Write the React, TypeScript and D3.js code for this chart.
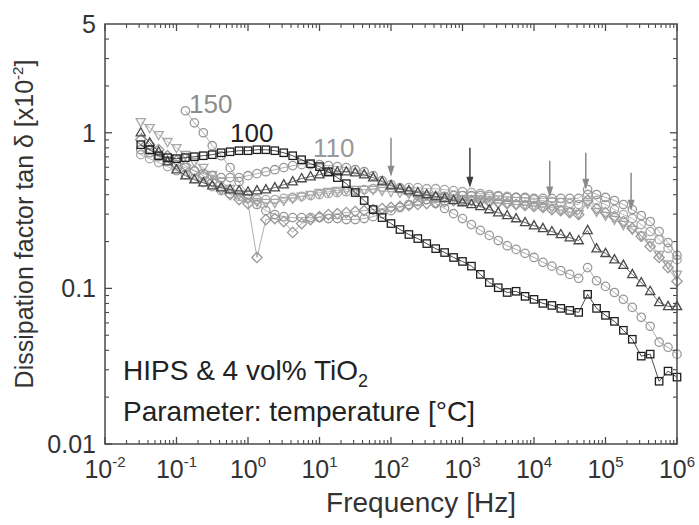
import React from 'react';
import * as d3 from 'd3';

// log10 of frequency [Hz] for each measured point
const freqExp = [-1.5,-1.375,-1.25,-1.125,-1,-0.875,-0.75,-0.625,-0.5,-0.375,-0.25,-0.125,0,0.125,0.25,0.375,0.5,0.625,0.75,0.875,1,1.125,1.25,1.375,1.5,1.625,1.75,1.875,2,2.125,2.25,2.375,2.5,2.625,2.75,2.875,3,3.125,3.25,3.375,3.5,3.625,3.75,3.875,4,4.125,4.25,4.375,4.5,4.625,4.75,4.875,5,5.125,5.25,5.375,5.5,5.625,5.75,5.875,6];

const sSquare = [0.838,0.778,0.712,0.692,0.682,0.692,0.702,0.712,0.723,0.744,0.755,0.767,0.767,0.778,0.778,0.767,0.744,0.712,0.671,0.633,0.606,0.562,0.515,0.471,0.413,0.367,0.321,0.285,0.261,0.239,0.222,0.209,0.194,0.180,0.170,0.158,0.149,0.139,0.123,0.109,0.101,0.0941,0.0958,0.0889,0.0850,0.0801,0.0777,0.0744,0.0722,0.0701,0.0916,0.0744,0.0671,0.0614,0.0538,0.0471,0.0367,0.0378,0.0253,0.0294,0.0269];
const sCircle110 = [0.778,0.744,0.702,0.661,0.624,0.597,0.570,0.546,0.530,0.515,0.515,0.515,0.530,0.546,0.562,0.579,0.597,0.615,0.624,0.624,0.624,0.615,0.606,0.597,0.579,0.562,0.530,0.493,0.464,0.437,0.418,0.395,0.372,0.351,0.326,0.302,0.281,0.257,0.236,0.219,0.203,0.188,0.178,0.168,0.158,0.147,0.139,0.130,0.123,0.116,0.136,0.112,0.103,0.0941,0.0850,0.0755,0.0652,0.0571,0.0451,0.0418,0.0378];
const sTriUp = [1.0,0.863,0.755,0.652,0.579,0.530,0.500,0.478,0.457,0.444,0.431,0.425,0.418,0.425,0.431,0.444,0.464,0.485,0.508,0.523,0.538,0.554,0.562,0.562,0.554,0.538,0.515,0.485,0.457,0.437,0.425,0.413,0.401,0.390,0.379,0.367,0.356,0.346,0.336,0.321,0.307,0.294,0.281,0.265,0.253,0.243,0.232,0.222,0.212,0.203,0.236,0.180,0.168,0.153,0.141,0.123,0.109,0.0958,0.0813,0.0766,0.0766];
const sTriDown = [1.176,1.077,0.971,0.876,0.801,0.723,0.652,0.597,0.538,0.485,0.437,0.401,0.379,0.361,0.356,0.356,0.367,0.379,0.390,0.401,0.413,0.418,0.425,0.431,0.431,0.431,0.431,0.425,0.418,0.413,0.407,0.401,0.395,0.390,0.384,0.379,0.372,0.367,0.361,0.356,0.351,0.351,0.346,0.346,0.341,0.336,0.331,0.321,0.312,0.302,0.351,0.312,0.294,0.277,0.257,0.239,0.219,0.197,0.165,0.143,0.123];
const sDiamond = [0.902,0.838,0.778,0.712,0.661,0.615,0.570,0.530,0.485,0.437,0.401,0.372,0.351,0.158,0.277,0.281,0.269,0.229,0.261,0.277,0.289,0.298,0.302,0.307,0.312,0.316,0.321,0.326,0.331,0.336,0.341,0.346,0.351,0.356,0.361,0.367,0.367,0.367,0.367,0.361,0.356,0.351,0.346,0.341,0.336,0.331,0.321,0.316,0.307,0.298,0.367,0.326,0.307,0.289,0.269,0.243,0.216,0.186,0.158,0.136,0.111];
const sCircleMid = [0.723,0.682,0.643,0.606,0.570,0.538,0.508,0.478,0.451,0.425,0.407,0.390,0.379,0.372,0.372,0.372,0.379,0.384,0.390,0.395,0.401,0.407,0.413,0.418,0.425,0.431,0.437,0.444,0.444,0.444,0.444,0.444,0.437,0.437,0.431,0.425,0.418,0.413,0.407,0.401,0.395,0.390,0.384,0.379,0.372,0.367,0.361,0.356,0.351,0.346,0.401,0.367,0.346,0.321,0.298,0.281,0.257,0.232,0.206,0.181,0.153];
const sCircle150 = [null,null,null,null,null,1.385,1.158,1.0,0.826,0.712,0.597,0.485,0.401,0.346,0.316,0.298,0.289,0.285,0.285,0.285,0.285,0.281,0.281,0.277,0.277,0.281,0.289,0.302,0.316,0.331,0.346,0.361,0.372,0.384,0.390,0.395,0.395,0.395,0.395,0.390,0.390,0.384,0.384,0.384,0.379,0.379,0.379,0.379,0.379,0.379,0.431,0.401,0.384,0.367,0.346,0.321,0.294,0.269,0.232,0.197,0.163];

const seriesDefs = [
  { key: 'triDown', values: sTriDown, marker: 'triDown', color: '#a8a8a8' },
  { key: 'circleMid', values: sCircleMid, marker: 'circle', color: '#a8a8a8' },
  { key: 'diamond', values: sDiamond, marker: 'diamond', color: '#9a9a9a' },
  { key: '150', values: sCircle150, marker: 'circle', color: '#979797' },
  { key: '110', values: sCircle110, marker: 'circle', color: '#999999' },
  { key: 'triUp', values: sTriUp, marker: 'triUp', color: '#4a4a4a' },
  { key: '100', values: sSquare, marker: 'square', color: '#1e1e1e' },
];

const curveLabels = [
  { text: '150', f: 0.15, v: 1.34, color: '#8c8c8c' },
  { text: '100', f: 0.56, v: 0.875, color: '#222222' },
  { text: '110', f: 8.1, v: 0.70, color: '#999999' },
];

const arrowFreqs = [100, 1270, 16600, 53000, 228000];
const arrowTops = [0.929, 0.801, 0.661, 0.744, 0.554];
const arrowTips = [0.522, 0.444, 0.384, 0.431, 0.316];
const arrowColors = ['#8a8a8a', '#3c3c3c', '#8a8a8a', '#8a8a8a', '#8a8a8a'];

const xTickExps = [-2, -1, 0, 1, 2, 3, 4, 5, 6];
const yTickValues = [5, 1, 0.1, 0.01];
const yTickLabels = ['5', '1', '0.1', '0.01'];

const FONT = "'Liberation Sans', Arial, sans-serif";

export default function App() {
  const W = 699, H = 525;
  const x = d3.scaleLog().domain([1e-2, 1e6]).range([105, 677]);
  const y = d3.scaleLog().domain([0.01, 5]).range([444, 24]);
  const [x0, x1] = x.range();
  const [yb, yt] = y.range();

  const freqs = freqExp.map((e) => Math.pow(10, e));

  const xMinor: number[] = [];
  for (let e = -2; e < 6; e++) for (let m = 2; m <= 9; m++) xMinor.push(m * Math.pow(10, e));
  const yMinor: number[] = [];
  for (let e = -2; e <= 0; e++) for (let m = 2; m <= 9; m++) { const v = m * Math.pow(10, e); if (v < 5) yMinor.push(v); }
  const yMajor = [0.01, 0.1, 1];

  const line = d3.line<[number, number | null]>()
    .defined((d) => d[1] != null)
    .x((d) => x(d[0]))
    .y((d) => y(d[1] as number));

  const drawMarker = (type: string, cx: number, cy: number, color: string, k: string) => {
    const sw = 1.3;
    if (type === 'square') return <rect key={k} x={cx - 3.7} y={cy - 3.7} width={7.4} height={7.4} fill="none" stroke={color} strokeWidth={sw} />;
    if (type === 'circle') return <circle key={k} cx={cx} cy={cy} r={4.2} fill="none" stroke={color} strokeWidth={sw} />;
    if (type === 'triUp') return <path key={k} d={`M${cx},${cy - 5}L${cx + 4.6},${cy + 3.2}L${cx - 4.6},${cy + 3.2}Z`} fill="none" stroke={color} strokeWidth={sw} />;
    if (type === 'triDown') return <path key={k} d={`M${cx},${cy + 5}L${cx + 4.6},${cy - 3.2}L${cx - 4.6},${cy - 3.2}Z`} fill="none" stroke={color} strokeWidth={sw} />;
    return <path key={k} d={`M${cx},${cy - 5.2}L${cx + 5.2},${cy}L${cx},${cy + 5.2}L${cx - 5.2},${cy}Z`} fill="none" stroke={color} strokeWidth={sw} />;
  };

  const axisColor = '#4a4a4a';
  const textColor = '#333333';

  return (
    <svg width={W} height={H} style={{ position: 'absolute', left: 0, top: 0, background: '#fff' }} fontFamily={FONT}>
      <rect x={0} y={0} width={W} height={H} fill="#fff" />
      {seriesDefs.map((s) => {
        const pts: [number, number | null][] = freqs.map((f, i) => [f, s.values[i]]);
        return (
          <g key={s.key}>
            <path d={line(pts) || ''} fill="none" stroke={s.color} strokeWidth={0.8} />
            {pts.map((p, i) => p[1] == null ? null : drawMarker(s.marker, x(p[0]), y(p[1] as number), s.color, s.key + i))}
          </g>
        );
      })}
      {arrowFreqs.map((f, i) => {
        const ax = x(f), ya = y(arrowTops[i]), yTip = y(arrowTips[i]);
        return (
          <g key={'ar' + i}>
            <line x1={ax} x2={ax} y1={ya} y2={yTip - 8} stroke={arrowColors[i]} strokeWidth={1.5} />
            <path d={`M${ax - 3.5},${yTip - 11}L${ax + 3.5},${yTip - 11}L${ax},${yTip}Z`} fill={arrowColors[i]} />
          </g>
        );
      })}
      {curveLabels.map((c) => (
        <text key={c.text} x={x(c.f)} y={y(c.v)} fill={c.color} fontSize={26}>{c.text}</text>
      ))}
      <rect x={x0} y={yt} width={x1 - x0} height={yb - yt} fill="none" stroke={axisColor} strokeWidth={1.5} />
      {xTickExps.map((e) => {
        const px = x(Math.pow(10, e));
        return (
          <g key={'xt' + e}>
            <line x1={px} x2={px} y1={yb} y2={yb - 7} stroke={axisColor} strokeWidth={1.3} />
            <line x1={px} x2={px} y1={yt} y2={yt + 7} stroke={axisColor} strokeWidth={1.3} />
            <text x={px} y={478} textAnchor="middle" fill={textColor} fontSize={25}>
              10<tspan dy={-11} fontSize={15}>{String(e)}</tspan>
            </text>
          </g>
        );
      })}
      {xMinor.map((v, i) => {
        const px = x(v);
        return (
          <g key={'xm' + i}>
            <line x1={px} x2={px} y1={yb} y2={yb - 4} stroke={axisColor} strokeWidth={1.1} />
            <line x1={px} x2={px} y1={yt} y2={yt + 4} stroke={axisColor} strokeWidth={1.1} />
          </g>
        );
      })}
      {yMajor.map((v, i) => {
        const py = y(v);
        return (
          <g key={'ym' + i}>
            <line x1={x0} x2={x0 + 7} y1={py} y2={py} stroke={axisColor} strokeWidth={1.3} />
            <line x1={x1} x2={x1 - 7} y1={py} y2={py} stroke={axisColor} strokeWidth={1.3} />
          </g>
        );
      })}
      {yMinor.map((v, i) => {
        const py = y(v);
        return (
          <g key={'yn' + i}>
            <line x1={x0} x2={x0 + 4} y1={py} y2={py} stroke={axisColor} strokeWidth={1.1} />
            <line x1={x1} x2={x1 - 4} y1={py} y2={py} stroke={axisColor} strokeWidth={1.1} />
          </g>
        );
      })}
      {yTickValues.map((v, i) => (
        <text key={'yl' + i} x={96} y={y(v)} dy="0.35em" textAnchor="end" fill={textColor} fontSize={25}>{yTickLabels[i]}</text>
      ))}
      <text x={421} y={512} textAnchor="middle" fill={textColor} fontSize={28}>Frequency [Hz]</text>
      <text transform="translate(33,224) rotate(-90)" textAnchor="middle" fill={textColor} fontSize={25}>
        Dissipation factor tan δ [x10<tspan dy={-10} fontSize={15}>-2</tspan><tspan dy={10}>]</tspan>
      </text>
      <text x={123} y={380} fill="#222" fontSize={28}>
        HIPS &amp; 4 vol% TiO<tspan dy={7} fontSize={18}>2</tspan>
      </text>
      <text x={123} y={421} fill="#222" fontSize={28}>Parameter: temperature [°C]</text>
    </svg>
  );
}
